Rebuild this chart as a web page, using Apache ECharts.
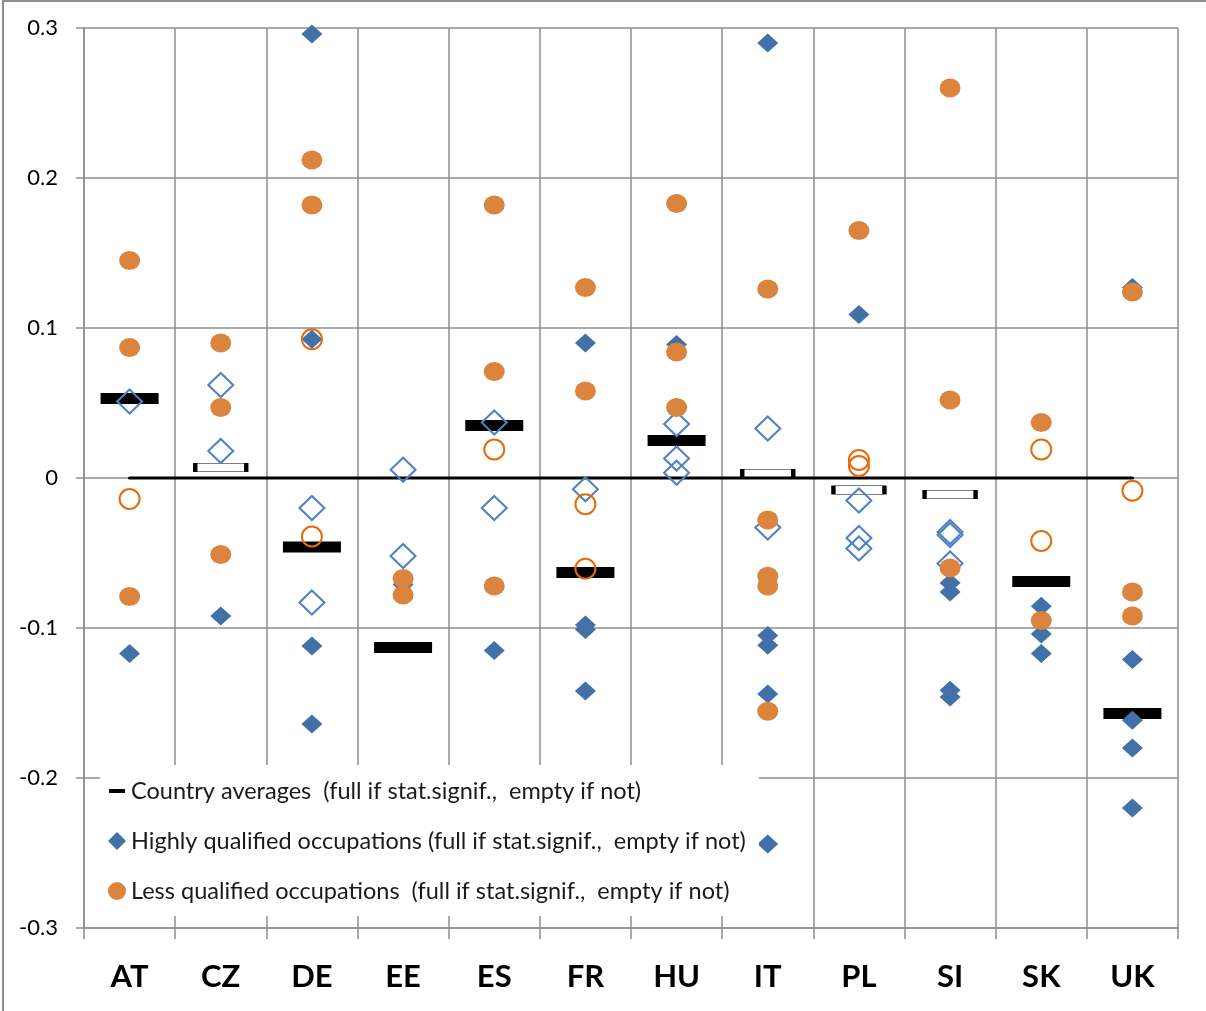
<!DOCTYPE html>
<html>
<head>
<meta charset="utf-8">
<script src="https://cdn.jsdelivr.net/npm/echarts@6/dist/echarts.min.js"></script>
<style>
  html, body { margin: 0; padding: 0; background: #fff; }
  #chart { width: 1206px; height: 1011px; }
</style>
</head>
<body>
<div id="chart"></div>
<script>
// Countries on the horizontal axis
const countries = ['AT', 'CZ', 'DE', 'EE', 'ES', 'FR', 'HU', 'IT', 'PL', 'SI', 'SK', 'UK'];

// Country averages and whether each one is statistically significant
const avgValues = [0.053, 0.007, -0.046, -0.113, 0.035, -0.063, 0.025, 0.003, -0.008, -0.011, -0.069, -0.157];
const avgSignif = [true, false, true, true, true, true, true, false, false, false, true, true];

// Highly qualified occupations, per country (significant / not significant)
const highFull = [
  [-0.117],
  [-0.092],
  [0.296, 0.0925, -0.112, -0.164],
  [-0.071],
  [-0.115],
  [0.090, -0.098, -0.101, -0.142],
  [0.089],
  [0.290, -0.105, -0.1115, -0.144, -0.244],
  [0.109],
  [-0.070, -0.076, -0.1415, -0.146],
  [-0.0855, -0.104, -0.117],
  [0.127, -0.121, -0.1615, -0.180, -0.220]
];
const highEmpty = [
  [0.051],
  [0.062, 0.018],
  [-0.020, -0.083],
  [0.0055, -0.052],
  [0.037, -0.020],
  [-0.0075],
  [0.036, 0.013, 0.0035],
  [0.033, -0.033],
  [-0.015, -0.040, -0.047],
  [-0.036, -0.038, -0.057],
  [],
  []
];

// Less qualified occupations, per country (significant / not significant)
const lessFull = [
  [0.145, 0.087, -0.079],
  [0.090, 0.047, -0.051],
  [0.212, 0.182],
  [-0.067, -0.078],
  [0.182, 0.071, -0.072],
  [0.127, 0.058],
  [0.183, 0.084, 0.047],
  [0.126, -0.028, -0.0655, -0.072, -0.1555],
  [0.165],
  [0.260, 0.052, -0.060],
  [0.037, -0.095],
  [0.124, -0.076, -0.092]
];
const lessEmpty = [
  [-0.014],
  [],
  [0.0925, -0.039],
  [],
  [0.019],
  [-0.0175, -0.0605],
  [],
  [],
  [0.012, 0.008],
  [],
  [0.019, -0.042],
  [-0.0085]
];

// Legend wording
const avgLabel = 'Country averages  (full if stat.signif.,  empty if not)';
const highLabel = 'Highly qualified occupations (full if stat.signif.,  empty if not)';
const lessLabel = 'Less qualified occupations  (full if stat.signif.,  empty if not)';

// Turn the per-country lists into [category, value] pairs
function toPoints(lists) {
  const out = [];
  lists.forEach((vals, i) => vals.forEach(v => out.push([countries[i], v])));
  return out;
}
const avgFullPts = [];
const avgEmptyPts = [];
avgValues.forEach((v, i) => (avgSignif[i] ? avgFullPts : avgEmptyPts).push([countries[i], v]));

const BLUE = '#4271A9';
const BLUE_LIGHT = '#4F81C5';
const ORANGE = '#DB843D';
const ORANGE_LINE = '#E46C0A';
const GRID = '#8E8E8E';
const FONT = 'Lato, "Open Sans", sans-serif';
const ELLIPSE = 'path://M0,10A10,10 0 1,1 20,10A10,10 0 1,1 0,10Z';
const HOLLOW = 'rgba(255,255,255,0)';

const chart = echarts.init(document.getElementById('chart'), null, { renderer: 'canvas' });

chart.setOption({
  animation: false,
  backgroundColor: '#fff',
  grid: { left: 84, right: 28, top: 28, bottom: 83, containLabel: false },
  xAxis: {
    type: 'category',
    data: countries,
    boundaryGap: true,
    axisLine: { show: true, onZero: false, lineStyle: { color: GRID, width: 1.5 } },
    axisTick: { show: true, length: 11, lineStyle: { color: GRID, width: 1.5 } },
    splitLine: { show: true, lineStyle: { color: GRID, width: 1.5 } },
    axisLabel: {
      margin: 33,
      color: '#000',
      fontFamily: FONT,
      fontWeight: 'bold',
      fontSize: 31
    }
  },
  yAxis: {
    type: 'value',
    min: -0.3,
    max: 0.3,
    interval: 0.1,
    axisLine: { show: true, lineStyle: { color: GRID, width: 1.5 } },
    axisTick: { show: true, length: 8, lineStyle: { color: GRID, width: 1.5 } },
    splitLine: { show: true, lineStyle: { color: GRID, width: 1.5 } },
    axisLabel: {
      margin: 26,
      color: '#000',
      fontFamily: FONT,
      fontSize: 22,
      formatter: v => String(Math.round(v * 10) / 10)
    }
  },
  legend: {
    show: true,
    orient: 'vertical',
    left: 100,
    top: 765,
    padding: [14, 13, 13, 8],
    itemGap: 26,
    itemWidth: 18,
    itemHeight: 18,
    backgroundColor: '#fff',
    selectedMode: false,
    textStyle: { fontFamily: FONT, fontSize: 23.5, color: '#1a1a1a', lineHeight: 20 },
    data: [
      { name: avgLabel, icon: 'path://M0,0M1,7h16v4h-16zM18,18', itemStyle: { color: '#000', opacity: 1 } },
      { name: highLabel, icon: 'diamond', itemStyle: { color: BLUE, opacity: 1 } },
      { name: lessLabel, icon: 'circle', itemStyle: { color: ORANGE, opacity: 1 } }
    ]
  },
  graphic: [
    {
      type: 'polyline',
      silent: true,
      z: 10,
      shape: { points: [[3, 1011], [3, 1], [1206, 1]] },
      style: { stroke: GRID, lineWidth: 2, fill: null }
    }
  ],
  series: [
    {
      name: 'zero',
      type: 'line',
      data: countries.map(c => [c, 0]),
      symbol: 'none',
      silent: true,
      z: 1,
      lineStyle: { color: '#000', width: 3.2, cap: 'round', opacity: 1 }
    },
    {
      name: avgLabel,
      type: 'scatter',
      data: avgFullPts,
      symbol: 'rect',
      symbolSize: [58, 11],
      itemStyle: { color: '#000', opacity: 1 },
      emphasis: { disabled: true }
    },
    {
      name: 'Country averages (not significant)',
      type: 'scatter',
      data: avgEmptyPts,
      symbol: 'rect',
      symbolSize: [51, 8.5],
      itemStyle: { color: HOLLOW, borderColor: '#000', borderWidth: 1.8, opacity: 1 },
      emphasis: { disabled: true }
    },
    {
      name: highLabel,
      type: 'scatter',
      data: toPoints(highFull),
      symbol: 'diamond',
      symbolSize: [21, 19],
      itemStyle: { color: BLUE, opacity: 1 },
      emphasis: { disabled: true }
    },
    {
      name: 'Highly qualified (not significant)',
      type: 'scatter',
      data: toPoints(highEmpty),
      symbol: 'diamond',
      symbolSize: [25, 24],
      itemStyle: { color: HOLLOW, borderColor: BLUE_LIGHT, borderWidth: 2, opacity: 1 },
      emphasis: { disabled: true }
    },
    {
      name: lessLabel,
      type: 'scatter',
      data: toPoints(lessFull),
      symbol: ELLIPSE,
      symbolSize: [21, 19],
      itemStyle: { color: ORANGE, opacity: 1 },
      emphasis: { disabled: true }
    },
    {
      name: 'Less qualified (not significant)',
      type: 'scatter',
      data: toPoints(lessEmpty),
      symbol: 'circle',
      symbolSize: 20,
      itemStyle: { color: HOLLOW, borderColor: ORANGE_LINE, borderWidth: 2, opacity: 1 },
      emphasis: { disabled: true }
    }
  ]
});
</script>
</body>
</html>
